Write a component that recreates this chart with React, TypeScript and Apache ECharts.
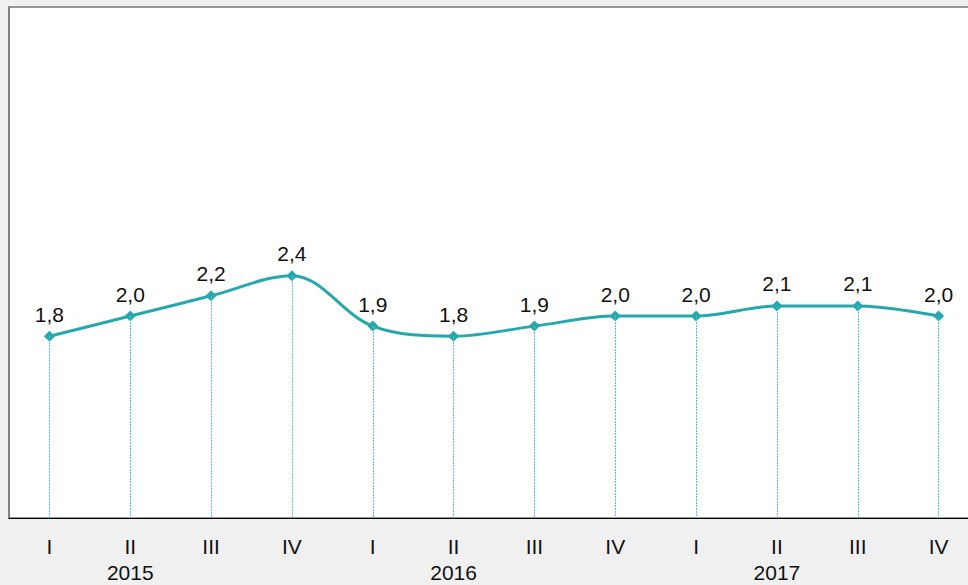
import React, { useEffect, useRef } from "react";
import * as echarts from "echarts";

const quarters = ["I", "II", "III", "IV", "I", "II", "III", "IV", "I", "II", "III", "IV"];
const years = ["2015", "2016", "2017"];
const values = [1.8, 2.0, 2.2, 2.4, 1.9, 1.8, 1.9, 2.0, 2.0, 2.1, 2.1, 2.0];

export default function App() {
  const ref = useRef<HTMLDivElement>(null);
  useEffect(() => {
    const chart = echarts.init(ref.current!, null, { renderer: "svg" });
    const fmt = (v: number) => v.toFixed(1).replace(".", ",");
    chart.setOption({
      animation: false,
      backgroundColor: "#f0f0f0",
      grid: {
        left: 9,
        top: 7,
        right: 0,
        bottom: 63,
        show: true,
        backgroundColor: "#ffffff",
        borderColor: "#333333",
        borderWidth: 1,
      },
      xAxis: {
        type: "category",
        data: quarters,
        boundaryGap: true,
        axisLine: { show: true, lineStyle: { color: "#000000", width: 1 } },
        axisTick: { show: false },
        splitLine: { show: false },
        axisLabel: {
          interval: 0,
          color: "#111111",
          fontFamily: "Liberation Sans, Arial, sans-serif",
          fontSize: 21,
          lineHeight: 26,
          margin: 15,
          formatter: (v: string, i: number) =>
            i % 4 === 1 ? v + "\n" + years[(i - 1) / 4] : v,
        },
      },
      yAxis: {
        type: "value",
        min: 0,
        max: 5.06,
        axisLine: { show: true, lineStyle: { color: "#808080", width: 2 } },
        axisTick: { show: false },
        axisLabel: { show: false },
        splitLine: { show: false },
      },
      series: [
        {
          type: "line",
          data: values,
          smooth: 0.35,
          symbol: "diamond",
          symbolSize: 11,
          itemStyle: { color: "#24a8ae" },
          lineStyle: { color: "#24a8ae", width: 3 },
          label: {
            show: true,
            position: "top",
            distance: 6,
            color: "#111111",
            fontFamily: "Liberation Sans, Arial, sans-serif",
            fontSize: 21,
            formatter: (p: any) => fmt(p.value),
          },
          markLine: {
            silent: true,
            symbol: "none",
            label: { show: false },
            lineStyle: { color: "#4fc3ca", type: [2, 1], width: 1 },
            data: values.map((v, i) => [
              { coord: [i, v] },
              { coord: [i, 0] },
            ]),
          },
          z: 3,
        },
      ],
    });
    return () => chart.dispose();
  }, []);
  return (
    <div
      style={{
        position: "absolute",
        left: 0,
        top: 0,
        width: 968,
        height: 585,
        overflow: "hidden",
      }}
    >
      <div ref={ref} style={{ width: 979, height: 585 }} />
    </div>
  );
}
